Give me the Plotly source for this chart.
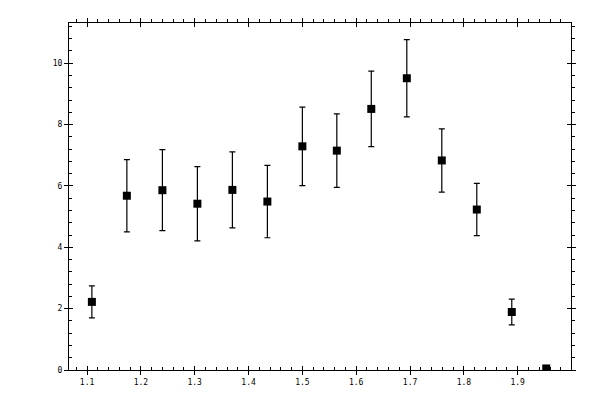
import plotly.graph_objects as go

# values
mass = [1.109, 1.174, 1.240, 1.305, 1.370, 1.435, 1.500, 1.564,
        1.628, 1.694, 1.759, 1.824, 1.889, 1.953]
counts = [2.22, 5.68, 5.86, 5.42, 5.87, 5.49, 7.29, 7.15,
          8.51, 9.51, 6.83, 5.23, 1.89, 0.05]
errors = [0.52, 1.18, 1.32, 1.21, 1.24, 1.18, 1.28, 1.20,
          1.23, 1.26, 1.03, 0.85, 0.42, 0.0]

x_range = [1.0665, 1.999]
y_range = [0, 11.31]

fig = go.Figure()
fig.add_trace(go.Scatter(
    x=mass, y=counts, mode="markers",
    marker=dict(symbol="square", size=8, color="black"),
    error_y=dict(type="data", array=errors, color="black", thickness=1.2, width=3),
    hoverinfo="skip",
))

# empty traces so the extra tick axes get drawn
for n in (2, 3, 4):
    fig.add_trace(go.Scatter(x=[None], y=[None], xaxis=f"x{n}", yaxis=f"y{n}",
                             mode="markers", hoverinfo="skip"))

tick_font = dict(family="DejaVu Sans Mono", size=8, color="black")
base = dict(showline=True, linecolor="black", linewidth=1, showgrid=False,
            zeroline=False, tickcolor="black", tickwidth=1, fixedrange=True)

# bottom / left: labels, major ticks outside, minor inside
fig.update_layout(
    xaxis=dict(base, range=x_range, dtick=0.1, ticks="outside", ticklen=4,
               tickfont=tick_font, anchor="y",
               minor=dict(dtick=0.02, ticks="inside", ticklen=3, tickcolor="black")),
    yaxis=dict(base, range=y_range, dtick=2, ticks="outside", ticklen=4,
               tickfont=tick_font, anchor="x",
               minor=dict(dtick=0.4, ticks="inside", ticklen=3, tickcolor="black")),
    # inner half of the major ticks
    xaxis2=dict(base, range=x_range, dtick=0.1, ticks="inside", ticklen=4,
                showticklabels=False, overlaying="x", side="bottom", anchor="y2"),
    yaxis2=dict(base, range=y_range, dtick=2, ticks="inside", ticklen=4,
                showticklabels=False, overlaying="y", side="left", anchor="x2"),
    # top / right: minor ticks point outward
    xaxis3=dict(base, range=x_range, dtick=0.1, ticks="outside", ticklen=4,
                showticklabels=False, overlaying="x", side="top", anchor="y3",
                minor=dict(dtick=0.02, ticks="outside", ticklen=3, tickcolor="black")),
    yaxis3=dict(base, range=y_range, dtick=2, ticks="outside", ticklen=4,
                showticklabels=False, overlaying="y", side="right", anchor="x3",
                minor=dict(dtick=0.4, ticks="outside", ticklen=3, tickcolor="black")),
    xaxis4=dict(base, range=x_range, dtick=0.1, ticks="inside", ticklen=4,
                showticklabels=False, overlaying="x", side="top", anchor="y4"),
    yaxis4=dict(base, range=y_range, dtick=2, ticks="inside", ticklen=4,
                showticklabels=False, overlaying="y", side="right", anchor="x4"),
)

# page body adds 8px offset, margins compensate for it
fig.update_layout(
    width=600, height=400,
    margin=dict(l=61, r=37, t=11, b=38),
    plot_bgcolor="white", paper_bgcolor="white",
    showlegend=False,
)

fig.write_html("out.html")
